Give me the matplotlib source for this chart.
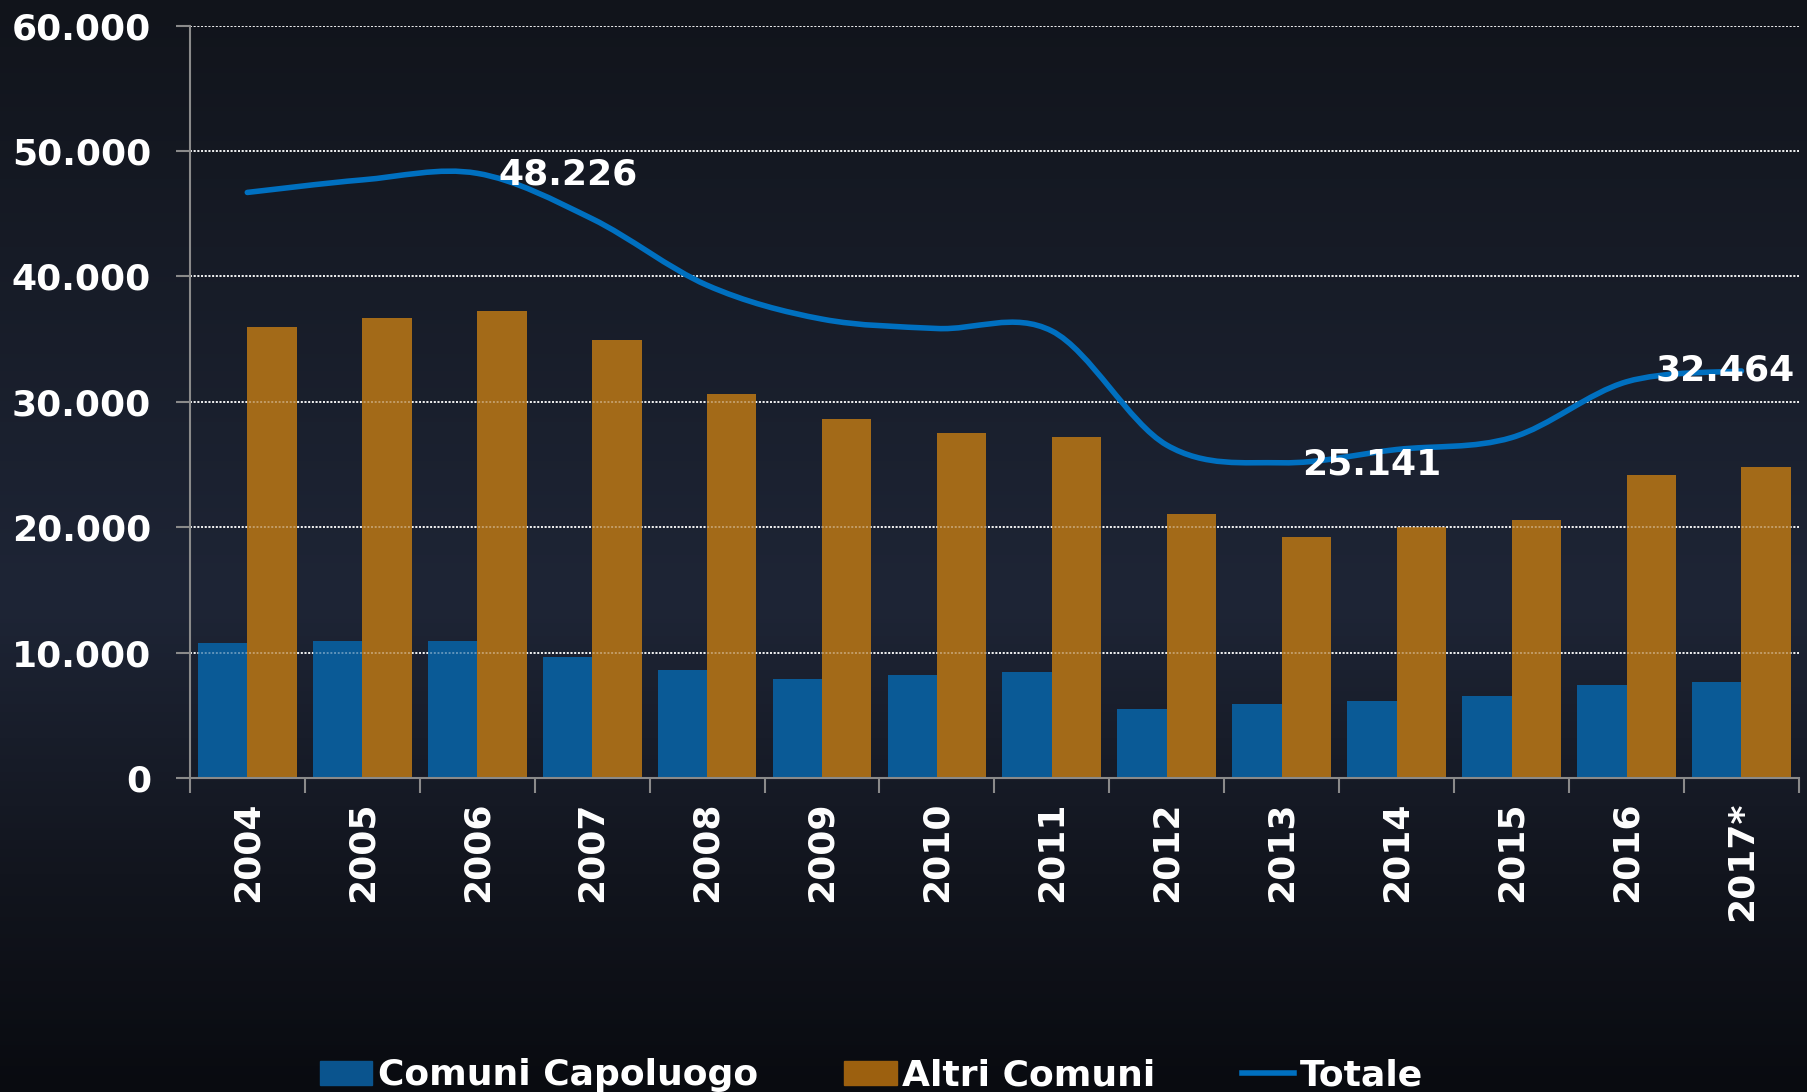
import matplotlib
matplotlib.use('Agg')
import matplotlib.pyplot as plt
import numpy as np
from matplotlib.path import Path
from matplotlib.patches import PathPatch, Patch
from matplotlib.lines import Line2D
from matplotlib.colors import LinearSegmentedColormap
from matplotlib.ticker import FixedLocator, FuncFormatter

#---- data ----#
years = ['2004', '2005', '2006', '2007', '2008', '2009', '2010',
         '2011', '2012', '2013', '2014', '2015', '2016', '2017*']
capoluogo = [10750, 10950, 10950, 9650, 8650, 7900, 8250,
             8450, 5500, 5900, 6150, 6550, 7450, 7650]
altri = [35950, 36700, 37250, 34950, 30600, 28600, 27550,
         27200, 21050, 19250, 20050, 20600, 24150, 24800]
totale = [46700, 47700, 48226, 44600, 39300, 36600, 35850,
          35650, 26550, 25141, 26200, 27150, 31600, 32464]
labelled = {2: '48.226', 9: '25.141', 13: '32.464'}

#---- style ----#
plt.rcParams['font.family'] = ['DejaVu Sans']
plt.rcParams['font.weight'] = 'bold'
fsize = 26
c_blue = '#0a5a96'
c_orange = '#a36a18'
c_line = '#0070c0'
c_axis = '#8a8a8a'

fig = plt.figure(figsize=(18.08, 10.92), dpi=100)

#---- background gradient ----#
bg = fig.add_axes([0, 0, 1, 1], zorder=-10)
bg_cmap = LinearSegmentedColormap.from_list('bg', [
    (0.0, (17/255, 20/255, 27/255)),
    (0.55, (30/255, 37/255, 54/255)),
    (0.8, (18/255, 21/255, 30/255)),
    (1.0, (9/255, 11/255, 16/255))])
bg.imshow(np.linspace(0, 1, 256).reshape(-1, 1), aspect='auto', cmap=bg_cmap,
          extent=[0, 1, 0, 1], origin='upper')
bg.set_axis_off()

ax = fig.add_axes([0.105, 0.2875, 0.89, 0.689])
ax.set_facecolor('none')

x = np.arange(len(years))
w = 0.43
ax.bar(x - w/2, capoluogo, width=w, color=c_blue, zorder=2)
ax.bar(x + w/2, altri, width=w, color=c_orange, zorder=2)

# gridlines: full strength behind the bars, faint overlay on top
for yv in range(10000, 60001, 10000):
    ax.axhline(yv, color='white', lw=1.4, ls=(0, (1, 0.9)), alpha=0.9, zorder=1)
    ax.axhline(yv, color='white', lw=1.4, ls=(0, (1, 0.9)), alpha=0.35, zorder=2.5)

#---- smoothed total line (cubic bezier through the points) ----#
pts = np.column_stack([x, totale]).astype(float)
ext = np.vstack([pts[0], pts, pts[-1]])
verts = [tuple(pts[0])]
codes = [Path.MOVETO]
for i in range(len(pts) - 1):
    p0, p1, p2, p3 = ext[i], ext[i+1], ext[i+2], ext[i+3]
    verts += [tuple(p1 + (p2 - p0)/6), tuple(p2 - (p3 - p1)/6), tuple(p2)]
    codes += [Path.CURVE4]*3
ax.add_patch(PathPatch(Path(verts, codes), fc='none', ec=c_line, lw=4.0,
                       capstyle='round', zorder=3))

for i, txt in labelled.items():
    if i == len(years) - 1:
        ax.annotate(txt, (x[i], totale[i]), xytext=(-12, 0), textcoords='offset points',
                    ha='center', va='center', color='white', fontsize=fsize,
                    fontweight='bold', zorder=4)
    else:
        ax.annotate(txt, (x[i], totale[i]), xytext=(15, -1), textcoords='offset points',
                    ha='left', va='center', color='white', fontsize=fsize,
                    fontweight='bold', zorder=4)

#---- axes ----#
ax.set_xlim(-0.5, len(years) - 0.5)
ax.set_ylim(0, 60000)
ax.yaxis.set_major_locator(FixedLocator(range(0, 60001, 10000)))
ax.yaxis.set_major_formatter(FuncFormatter(lambda v, p: f'{int(v):,}'.replace(',', '.')))
ax.tick_params(axis='y', colors=c_axis, length=10, width=1.5, pad=18,
               labelsize=fsize, labelcolor='white')

ax.xaxis.set_major_locator(FixedLocator(np.arange(-0.5, len(years), 1.0)))
ax.xaxis.set_major_formatter(FuncFormatter(lambda v, p: ''))
ax.set_xticks(x, years, minor=True)
ax.tick_params(axis='x', which='major', colors=c_axis, length=11, width=1.5)
ax.tick_params(axis='x', which='minor', length=0, pad=17, labelsize=fsize,
               labelcolor='white', labelrotation=90)
for t in ax.get_xticklabels(minor=True):
    t.set_fontweight('bold')
    t.set_va('top')
for t in ax.get_yticklabels():
    t.set_fontweight('bold')

for s in ['top', 'right']:
    ax.spines[s].set_visible(False)
for s in ['left', 'bottom']:
    ax.spines[s].set_color(c_axis)
    ax.spines[s].set_linewidth(1.5)

#---- legend ----#
handles = [Patch(color='#0a548e', label='Comuni Capoluogo'),
           Patch(color='#9c600f', label='Altri Comuni'),
           Line2D([0], [0], color=c_line, lw=4.0, label='Totale')]
leg = fig.legend(handles=handles, loc='lower center', bbox_to_anchor=(0.482, -0.03),
                 ncol=3, frameon=False, handlelength=1.45,
                 handleheight=0.64, handletextpad=0.15, columnspacing=2.4,
                 prop={'weight': 'bold', 'size': fsize})
for t in leg.get_texts():
    t.set_color('white')

plt.savefig('out.png', dpi=100)
